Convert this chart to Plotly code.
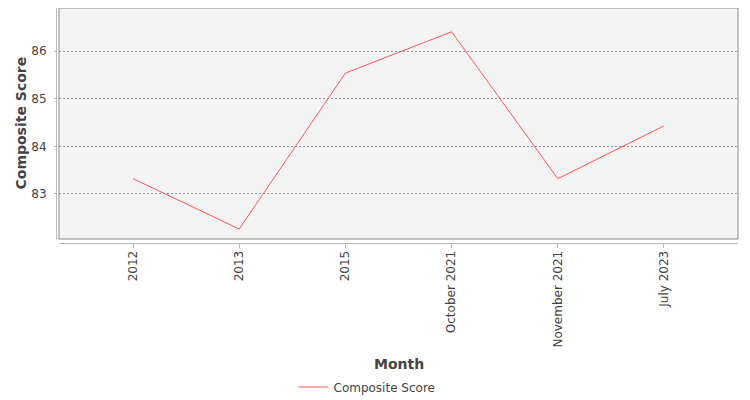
"""Composite score by month - line chart in the old JFreeChart look."""
import plotly.graph_objects as go

months = ["2012", "2013", "2015", "October 2021", "November 2021", "July 2023"]
composite_score = [83.32, 82.26, 85.54, 86.41, 83.32, 84.43]

# the page body adds an 8px offset, so the figure is laid out 8px up/left
OFF = 8
W, H = 750, 400
ML, MT = 56 - OFF, 8 - OFF
MR = W - (738 - OFF)
MB = H - (243 - OFF)
pw = W - ML - MR
ph = H - MT - MB

font = "DejaVu Sans, Verdana, sans-serif"
text_col = "#444444"


def py(pix):
    """page y pixel -> paper y"""
    return (ph - (pix - OFF - MT)) / ph


def px(pix):
    """page x pixel -> paper x"""
    return (pix - OFF - ML) / pw


fig = go.Figure()
fig.add_trace(go.Scatter(
    x=months, y=composite_score,
    mode="lines", name="Composite Score",
    line=dict(color="#ff5555", width=1),
))

fig.update_layout(
    width=W, height=H,
    margin=dict(l=ML, r=MR, t=MT, b=MB),
    paper_bgcolor="white",
    plot_bgcolor="#f4f4f4",
    font=dict(family=font, size=12, color=text_col),
    showlegend=True,
    legend=dict(
        orientation="h", x=px(367), xanchor="center",
        y=py(387), yanchor="middle",
        font=dict(size=12, color=text_col),
    ),
    xaxis=dict(
        type="category", domain=[3 / pw, 1], anchor="free", position=0,
        range=[-0.697, 5.697],
        showgrid=False, zeroline=False,
        showline=True, linecolor="#b8b8b8", linewidth=1,
        ticks="outside", ticklen=4, tickcolor="#b8b8b8",
        tickangle=-90, tickfont=dict(size=12, color=text_col),
        ticklabelstandoff=-2,
    ),
    yaxis=dict(
        domain=[4 / ph, 1], anchor="free", position=0,
        range=[82.05, 86.91], tick0=83, dtick=1,
        showgrid=True, gridcolor="#999999", gridwidth=1, griddash="2px,2px",
        zeroline=False,
        showline=True, linecolor="#b8b8b8", linewidth=1,
        ticks="outside", ticklen=2, tickcolor="#b8b8b8",
        tickfont=dict(size=12, color=text_col),
        ticklabelstandoff=5,
    ),
    shapes=[dict(
        type="rect", xref="x domain", yref="y domain",
        x0=0, x1=1, y0=0, y1=1,
        line=dict(color="#888888", width=1), layer="above",
    )],
    annotations=[
        dict(text="<b>Month</b>", xref="paper", yref="paper",
             x=px(398.5), y=py(364),
             xanchor="center", yanchor="middle", showarrow=False,
             font=dict(size=14, color=text_col)),
        dict(text="<b>Composite Score</b>", xref="paper", yref="paper",
             x=px(20), y=py(123.5), textangle=-90,
             xanchor="center", yanchor="middle", showarrow=False,
             font=dict(size=14, color=text_col)),
    ],
)

fig.write_html("out.html")
